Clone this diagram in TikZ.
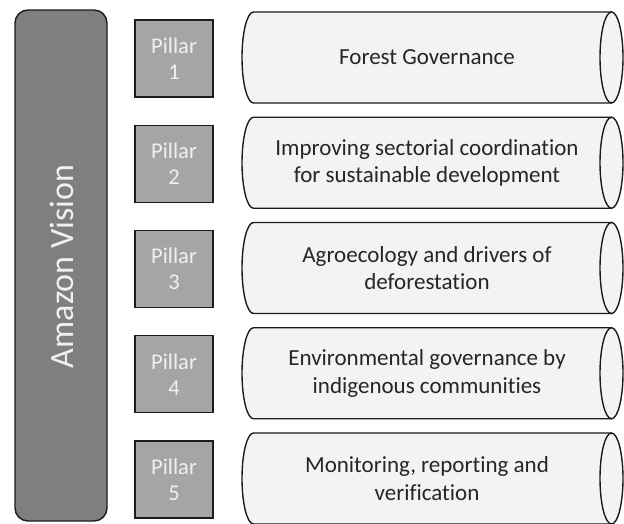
\documentclass[tikz,border=0pt]{standalone}
\usepackage{fontspec}
\setmainfont{Carlito}[Ligatures=NoCommon]
\usepackage{tikz}

\definecolor{visiongray}{HTML}{7F7F7F}
\definecolor{pillargray}{HTML}{A5A5A5}
\definecolor{tubefill}{HTML}{F2F3F5}
\definecolor{linedark}{HTML}{1C1C1C}
\definecolor{textdark}{HTML}{262626}

\tikzset{
  visionbox/.style={draw=linedark, line width=1.4pt, fill=visiongray, rounded corners=13pt},
  pillarbox/.style={draw=linedark, line width=1.4pt, fill=pillargray},
  tube/.style={draw=linedark, line width=1.4pt, fill=tubefill},
  pillartext/.style={draw=none, text=white!94!black, align=center, font=\fontsize{22.5}{26}\selectfont},
  tubetext/.style={draw=none, text=textdark, align=center, font=\fontsize{23}{27.5}\selectfont},
}

\begin{document}
\begin{tikzpicture}[x=1pt, y=1pt]
   \useasboundingbox (0, 0) rectangle (624, 523);

   \draw [visionbox] (15, 2) rectangle (107, 513);
   \node [draw=none, rotate=90, text=white!94!black, font=\fontsize{34}{40}\selectfont] (vision) at (61.5, 256.5) {Amazon Vision};

   \draw [pillarbox] (135, 426) rectangle (213, 503);
   \draw [pillarbox] (135, 320.75) rectangle (213, 397.75);
   \draw [pillarbox] (135, 215.5) rectangle (213, 292.5);
   \draw [pillarbox] (135, 110.25) rectangle (213, 187.25);
   \draw [pillarbox] (135, 5) rectangle (213, 82);
   \node [pillartext] (p1) at (174, 464.5) {Pillar\\1};
   \node [pillartext] (p2) at (174, 359.25) {Pillar\\2};
   \node [pillartext] (p3) at (174, 254) {Pillar\\3};
   \node [pillartext] (p4) at (174, 148.75) {Pillar\\4};
   \node [pillartext] (p5) at (174, 43.5) {Pillar\\5};

   \draw [tube] (611.5, 511) -- (253.5, 511) arc [start angle=90, end angle=270, x radius=11.5pt, y radius=45.5pt] -- (611.5, 420) -- cycle;
   \draw [tube] (611.5, 465.5) ellipse [x radius=11.5pt, y radius=45.5pt];
   \draw [tube] (611.5, 405.75) -- (253.5, 405.75) arc [start angle=90, end angle=270, x radius=11.5pt, y radius=45.5pt] -- (611.5, 314.75) -- cycle;
   \draw [tube] (611.5, 360.25) ellipse [x radius=11.5pt, y radius=45.5pt];
   \draw [tube] (611.5, 300.5) -- (253.5, 300.5) arc [start angle=90, end angle=270, x radius=11.5pt, y radius=45.5pt] -- (611.5, 209.5) -- cycle;
   \draw [tube] (611.5, 255) ellipse [x radius=11.5pt, y radius=45.5pt];
   \draw [tube] (611.5, 195.25) -- (253.5, 195.25) arc [start angle=90, end angle=270, x radius=11.5pt, y radius=45.5pt] -- (611.5, 104.25) -- cycle;
   \draw [tube] (611.5, 149.75) ellipse [x radius=11.5pt, y radius=45.5pt];
   \draw [tube] (611.5, 90) -- (253.5, 90) arc [start angle=90, end angle=270, x radius=11.5pt, y radius=45.5pt] -- (611.5, -1) -- cycle;
   \draw [tube] (611.5, 44.5) ellipse [x radius=11.5pt, y radius=45.5pt];

   \node [tubetext] (t1) at (427, 465.5) {Forest Governance};
   \node [tubetext] (t2) at (427, 360.25) {Improving sectorial coordination\\for sustainable development};
   \node [tubetext] (t3) at (427, 255) {Agroecology and drivers of\\deforestation};
   \node [tubetext] (t4) at (427, 149.75) {Environmental governance by\\indigenous communities};
   \node [tubetext] (t5) at (427, 44.5) {Monitoring, reporting and\\verification};
\end{tikzpicture}
\end{document}
